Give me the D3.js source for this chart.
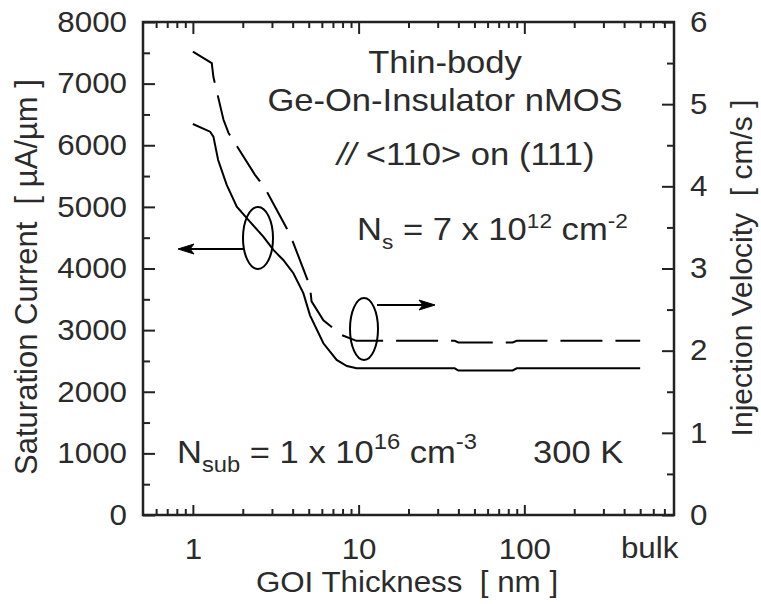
<!DOCTYPE html>
<html>
<head>
<meta charset="utf-8">
<script src="https://cdn.jsdelivr.net/npm/d3@7"></script>
<style>
  html, body { margin: 0; padding: 0; background: #fff; }
  svg { display: block; }
  text { font-family: "Liberation Sans", Arial, Helvetica, sans-serif; fill: #2b2b2b; }
</style>
</head>
<body>
<svg id="chart" width="761" height="604"></svg>
<script>
// ---------------- DATA ----------------
// GOI thickness [nm]
const currentThickness = [1, 1.27, 1.33, 1.42, 1.6, 1.84, 2.16, 2.66, 3.06, 3.51, 4.04, 4.64, 5.09, 6.13, 7.37, 8.5, 9.72, 20, 38, 40, 85, 90, 200, 500];
// Saturation current [µA/µm] (solid, left axis)
const currentValues    = [6345, 6220, 6140, 5760, 5356, 5004, 4788, 4517, 4301, 4139, 3923, 3600, 3240, 2787, 2516, 2418, 2381, 2381, 2381, 2345, 2345, 2381, 2381, 2381];

const velocityThickness = [1, 1.30, 1.33, 1.53, 1.64, 2.37, 2.72, 3.68, 4.04, 5.09, 5.2, 6.13, 7.92, 9.7, 20, 38, 40, 85, 90, 200, 500];
// Injection velocity [x10^7 cm/s] (dashed, right axis)
const velocityValues    = [5.64, 5.50, 5.33, 4.81, 4.65, 4.14, 3.98, 3.49, 3.31, 2.78, 2.60, 2.37, 2.19, 2.12, 2.12, 2.12, 2.10, 2.10, 2.12, 2.12, 2.12];

const xMajorTicks  = [1, 10, 100];
const xTickLabels  = ["1", "10", "100"];
const xMinorTicks  = [0.6, 0.7, 0.8, 0.9, 2, 3, 4, 5, 6, 7, 8, 9, 20, 30, 40, 50, 60, 70, 80, 90, 200, 300, 400, 500, 600, 700];
const bulkLabel    = "bulk";
const bulkAt       = 570;
const yLeftTicks   = [0, 1000, 2000, 3000, 4000, 5000, 6000, 7000, 8000];
const yLeftMinor   = [500, 1500, 2500, 3500, 4500, 5500, 6500, 7500];
const yRightTicks  = [0, 1, 2, 3, 4, 5, 6];
const yRightMinor  = [0.5, 1.5, 2.5, 3.5, 4.5, 5.5];

// ---------------- LAYOUT ----------------
const L = 143, R = 674, T = 22, B = 515;
const SX = 1.08; // horizontal stretch of the lettering
const svg = d3.select("#chart");

const x  = d3.scaleLog().domain([0.5, 800]).range([L, R]);
const yL = d3.scaleLinear().domain([0, 8000]).range([B, T]);
const yR = d3.scaleLinear().domain([0, 6]).range([B, T]);

const FS = 29;

function styleAxis(g) {
  g.select(".domain").remove();
  g.selectAll(".tick line").attr("stroke", "#222").attr("stroke-width", 2);
  g.selectAll(".tick text").attr("font-size", FS).attr("fill", "#2b2b2b")
    .attr("font-family", "'Liberation Sans', Arial, sans-serif");
}
function stretchLabels(g, ox) {
  g.selectAll(".tick text").each(function() {
    const t = d3.select(this);
    const tx = +t.attr("x") || 0;
    t.attr("transform", `translate(${tx},0) scale(${SX},1)`).attr("x", 0);
  });
}

// Left axis
svg.append("g").attr("transform", `translate(${L},0)`)
  .call(d3.axisLeft(yL).tickValues(yLeftTicks).tickFormat(d3.format("d")).tickSizeInner(-12).tickSizeOuter(0).tickPadding(16))
  .call(styleAxis).call(stretchLabels);
svg.append("g").attr("transform", `translate(${L},0)`)
  .call(d3.axisLeft(yL).tickValues(yLeftMinor).tickFormat("").tickSizeInner(-7).tickSizeOuter(0))
  .call(styleAxis);

// Right axis
svg.append("g").attr("transform", `translate(${R},0)`)
  .call(d3.axisRight(yR).tickValues(yRightTicks).tickFormat(d3.format("d")).tickSizeInner(-12).tickSizeOuter(0).tickPadding(16))
  .call(styleAxis).call(stretchLabels);
svg.append("g").attr("transform", `translate(${R},0)`)
  .call(d3.axisRight(yR).tickValues(yRightMinor).tickFormat("").tickSizeInner(-7).tickSizeOuter(0))
  .call(styleAxis);

// Bottom axis
svg.append("g").attr("transform", `translate(0,${B})`)
  .call(d3.axisBottom(x).tickValues(xMajorTicks).tickFormat((d, i) => xTickLabels[i]).tickSizeInner(-10).tickSizeOuter(0).tickPadding(23))
  .call(styleAxis).call(stretchLabels);
svg.append("g").attr("transform", `translate(0,${B})`)
  .call(d3.axisBottom(x).tickValues(xMinorTicks).tickFormat("").tickSizeInner(-6).tickSizeOuter(0))
  .call(styleAxis);

// Top axis
svg.append("g").attr("transform", `translate(0,${T})`)
  .call(d3.axisTop(x).tickValues(xMajorTicks).tickFormat("").tickSizeInner(-12).tickSizeOuter(0))
  .call(styleAxis);
svg.append("g").attr("transform", `translate(0,${T})`)
  .call(d3.axisTop(x).tickValues(xMinorTicks).tickFormat("").tickSizeInner(-6).tickSizeOuter(0))
  .call(styleAxis);

// Frame
svg.append("rect").attr("x", L).attr("y", T).attr("width", R - L).attr("height", B - T)
  .attr("fill", "none").attr("stroke", "#222").attr("stroke-width", 2.5);

// ---------------- CURVES ----------------
const curData = currentThickness.map((t, i) => [t, currentValues[i]]);
const velData = velocityThickness.map((t, i) => [t, velocityValues[i]]);

svg.append("path").datum(curData)
  .attr("d", d3.line().x(d => x(d[0])).y(d => yL(d[1])))
  .attr("fill", "none").attr("stroke", "#000").attr("stroke-width", 2);

svg.append("path").datum(velData)
  .attr("d", d3.line().x(d => x(d[0])).y(d => yR(d[1])))
  .attr("fill", "none").attr("stroke", "#000").attr("stroke-width", 2)
  .attr("stroke-dasharray", "42,13");

// ---------------- ANNOTATIONS ----------------
function arrow(x1, y, x2) {
  const dir = Math.sign(x2 - x1);
  svg.append("line").attr("x1", x1).attr("y1", y).attr("x2", x2 - dir * 6).attr("y2", y)
    .attr("stroke", "#000").attr("stroke-width", 1.8);
  svg.append("path")
    .attr("d", `M${x2},${y} L${x2 - dir * 16},${y - 5} L${x2 - dir * 12},${y} L${x2 - dir * 16},${y + 5} Z`)
    .attr("fill", "#000").attr("stroke", "#000").attr("stroke-width", 1);
}
svg.append("ellipse").attr("cx", 258).attr("cy", 238).attr("rx", 15).attr("ry", 31)
  .attr("fill", "none").attr("stroke", "#000").attr("stroke-width", 2);
arrow(243, 249, 178);
svg.append("ellipse").attr("cx", 364).attr("cy", 329).attr("rx", 14).attr("ry", 31)
  .attr("fill", "none").attr("stroke", "#000").attr("stroke-width", 2);
arrow(377, 305, 435);

// stretched horizontal text
function htext(px, py, size, anchor) {
  return svg.append("text").attr("transform", `translate(${px},${py}) scale(${SX},1)`)
    .attr("font-size", size).attr("text-anchor", anchor || "start").attr("xml:space", "preserve");
}

svg.append("g"); // spacer
htext(x(bulkAt), 558, FS, "middle").text(bulkLabel);

const AFS = 32;
htext(445, 73, AFS, "middle").text("Thin-body");
htext(445, 111, AFS, "middle").text("Ge-On-Insulator nMOS");
const t3 = htext(337, 165, AFS);
t3.append("tspan").attr("font-style", "italic").text("//");
t3.append("tspan").text(" <110> on (111)");

const t4 = htext(357, 240, AFS);
t4.append("tspan").text("N");
t4.append("tspan").attr("font-size", 21).attr("dy", 9).text("s");
t4.append("tspan").attr("dy", -9).text(" = 7 x 10");
t4.append("tspan").attr("font-size", 21).attr("dy", -12).text("12");
t4.append("tspan").attr("dy", 12).text(" cm");
t4.append("tspan").attr("font-size", 21).attr("dy", -12).text("-2");

const t5 = htext(177, 463, AFS);
t5.append("tspan").text("N");
t5.append("tspan").attr("font-size", 22).attr("dy", 9).text("sub");
t5.append("tspan").attr("dy", -9).text(" = 1 x 10");
t5.append("tspan").attr("font-size", 22).attr("dy", -14).text("16");
t5.append("tspan").attr("dy", 14).text(" cm");
t5.append("tspan").attr("font-size", 22).attr("dy", -14).text("-3");

htext(533, 463, AFS).text("300 K");

// Axis titles
htext(407, 592, 29, "middle").text("GOI Thickness  [ nm ]");
svg.append("text").attr("transform", "translate(37,277) rotate(-90)").attr("text-anchor", "middle").attr("font-size", 31)
  .attr("xml:space", "preserve").text("Saturation Current  [ µA/µm ]");
svg.append("text").attr("transform", "translate(752,268) rotate(-90)").attr("text-anchor", "middle").attr("font-size", 30)
  .attr("xml:space", "preserve").text("Injection Velocity  [ cm/s ]");
</script>
</body>
</html>
